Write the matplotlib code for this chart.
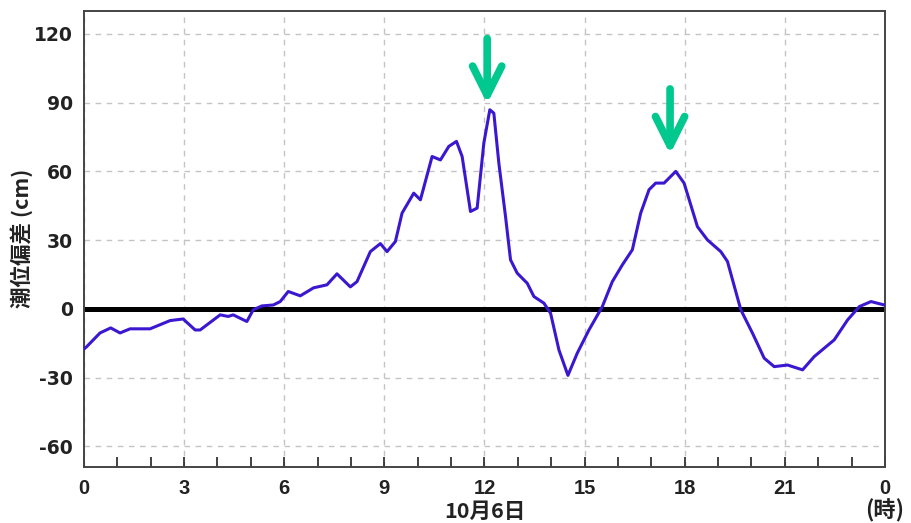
import matplotlib
matplotlib.use("Agg")
import matplotlib.pyplot as plt
from matplotlib.ticker import FixedLocator, MultipleLocator

# Storm surge deviation (cm) over 24 hours
hours = [0.0, 0.08, 0.48, 0.8, 1.08, 1.38, 1.98, 2.58, 2.97, 3.33, 3.48, 4.08,
         4.32, 4.47, 4.88, 5.07, 5.33, 5.67, 5.88, 6.12, 6.48, 6.88, 7.28, 7.58,
         7.98, 8.18, 8.58, 8.88, 9.08, 9.33, 9.53, 9.88, 10.08, 10.43, 10.68,
         10.93, 11.16, 11.33, 11.58, 11.78, 11.98, 12.16, 12.28, 12.43, 12.63,
         12.78, 12.98, 13.28, 13.48, 13.78, 13.98, 14.23, 14.5, 14.78, 15.13,
         15.53, 15.83, 16.13, 16.43, 16.68, 16.93, 17.13, 17.38, 17.73, 17.98,
         18.38, 18.68, 19.08, 19.28, 19.68, 20.03, 20.38, 20.68, 21.08, 21.53,
         21.88, 22.48, 22.88, 23.23, 23.58, 23.98]
deviation = [-17.5, -16.5, -10.5, -8.3, -10.5, -8.7, -8.7, -5.1, -4.4, -9.2,
             -9.2, -2.6, -3.3, -2.6, -5.5, -0.4, 1.3, 1.7, 3.2, 7.6, 5.7, 9.2,
             10.5, 15.3, 9.6, 11.9, 25.0, 28.5, 25.0, 29.4, 41.8, 50.5, 47.6,
             66.5, 65.0, 70.9, 73.1, 66.5, 42.5, 44.0, 72.4, 86.9, 85.4, 63.6,
             40.3, 21.4, 15.6, 11.2, 5.4, 2.5, -1.9, -17.9, -29.0, -19.3, -9.2,
             1.0, 11.9, 19.2, 25.8, 41.8, 52.0, 54.9, 54.9, 60.0, 54.9, 35.9,
             30.1, 25.0, 20.7, -0.4, -10.6, -21.5, -25.2, -24.5, -26.6, -20.8,
             -13.5, -4.8, 1.0, 3.2, 1.7]

y_ticks = [-60, -30, 0, 30, 60, 90, 120]
x_ticks = [0, 3, 6, 9, 12, 15, 18, 21, 24]
x_tick_labels = ["0", "3", "6", "9", "12", "15", "18", "21", "0"]
date_label = "10月6日"
unit_label = "(時)"
y_label = "潮位偏差 (cm)"

# Peaks highlighted with arrows: (hour, arrow tip, arrow tail)
arrow_hours = [12.08, 17.56]
arrow_tips = [89.5, 67.5]
arrow_tails = [118.0, 96.0]

cjk = ["Noto Sans CJK JP", "DejaVu Sans"]

W, H = 912, 523
fig = plt.figure(figsize=(W / 100, H / 100), dpi=100)
ax = fig.add_axes([84 / W, 56 / H, 801 / W, 456 / H])

ax.set_xlim(0, 24)
ax.set_ylim(-69, 130)

ax.grid(True, color="#c4c4c4", linestyle=(0, (4, 4)), linewidth=1.0)
ax.set_axisbelow(True)

ax.axhline(0, color="black", linewidth=3.6, zorder=2)
ax.plot(hours, deviation, color="#3b18d0", linewidth=2.2, zorder=3,
        solid_joinstyle="round")

for h, tip, tail in zip(arrow_hours, arrow_tips, arrow_tails):
    ax.annotate("", xy=(h, tip), xytext=(h, tail),
                arrowprops=dict(arrowstyle="->,head_length=2.1,head_width=1.05",
                                color="#00c88e", lw=5.5,
                                shrinkA=0, shrinkB=0),
                zorder=4)

ax.yaxis.set_major_locator(FixedLocator(y_ticks))
ax.set_yticklabels([str(v) for v in y_ticks],
                   fontsize=13.5, fontweight="bold", family="DejaVu Sans")
ax.tick_params(axis="y", length=0, pad=8, colors="#222222")

ax.xaxis.set_major_locator(FixedLocator(x_ticks))
ax.xaxis.set_minor_locator(MultipleLocator(1))
ax.set_xticklabels(x_tick_labels, fontsize=14.5, fontweight="bold",
                   family="Liberation Sans")
ax.tick_params(axis="x", which="both", direction="in", length=7, width=1.2,
               pad=9, colors="#222222", top=False)

for s in ax.spines.values():
    s.set_color("#444444")
    s.set_linewidth(1.4)

# Date under the 12 o'clock tick and unit under the final tick
x12 = (84 + 801 * 12 / 24) / W
x24 = (84 + 801) / W
fig.text(x12, 1 - 511 / H, date_label, ha="center", va="center", fontsize=15.5,
         fontweight="bold", family=cjk, color="#222222")
fig.text(x24, 1 - 511 / H, unit_label, ha="center", va="center",
         fontsize=16, fontweight="bold", family=cjk, color="#222222")

fig.text(22 / W, 1 - 238 / H, y_label, rotation=90, ha="center",
         va="center", fontsize=15.5, fontweight="bold", family=cjk,
         color="#222222")

fig.savefig("out.png", dpi=100)
